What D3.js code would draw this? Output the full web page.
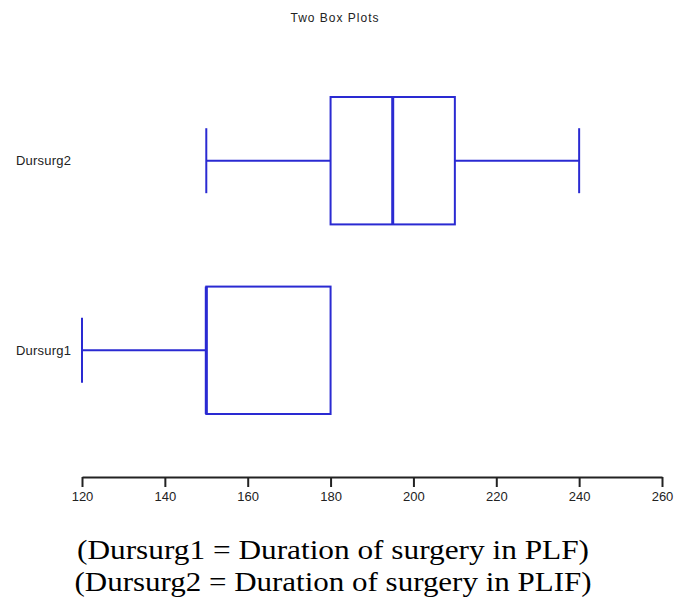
<!DOCTYPE html>
<html><head><meta charset="utf-8">
<script src="https://cdn.jsdelivr.net/npm/d3@7"></script>
<style>body{margin:0;background:#fff}svg{display:block}</style>
</head><body>
<script>
const categories = ["Dursurg1", "Dursurg2"];
const mins    = [120, 150];
const q1s     = [150, 180];
const medians = [150, 195];
const q3s     = [180, 210];
const maxs    = [180, 240];
const tickValues = [120, 140, 160, 180, 200, 220, 240, 260];
const title = "Two Box Plots";
const captions = ["(Dursurg1 = Duration of surgery in PLF)", "(Dursurg2 = Duration of surgery in PLIF)"];

const W = 688, H = 597;
const svg = d3.select("body").append("svg").attr("width", W).attr("height", H);
const x = d3.scaleLinear().domain([120, 260]).range([82, 662]);
const y = d3.scaleBand().domain(["Dursurg2", "Dursurg1"]).range([97, 414]).paddingInner(0.328).paddingOuter(0);
const col = "#2a2ad2";

svg.append("text").attr("x", 335).attr("y", 22).attr("text-anchor", "middle")
  .style("font-family", "Arial, 'Liberation Sans', sans-serif").style("font-size", "12px").style("letter-spacing", "1px")
  .attr("fill", "#222").text(title);

const data = categories.map((c, i) => ({c, min: mins[i], q1: q1s[i], med: medians[i], q3: q3s[i], max: maxs[i]}));
const g = svg.append("g");
data.forEach(d => {
  const y0 = y(d.c), bh = y.bandwidth(), cy = y0 + bh / 2, capH = bh * 0.51;
  const gg = g.append("g").attr("stroke", col).attr("fill", "none");
  if (d.min < d.q1) {
    gg.append("line").attr("x1", x(d.min)).attr("x2", x(d.q1)).attr("y1", cy).attr("y2", cy).attr("stroke-width", 2);
    gg.append("line").attr("x1", x(d.min)).attr("x2", x(d.min)).attr("y1", cy - capH / 2).attr("y2", cy + capH / 2).attr("stroke-width", 2);
  }
  if (d.max > d.q3) {
    gg.append("line").attr("x1", x(d.q3)).attr("x2", x(d.max)).attr("y1", cy).attr("y2", cy).attr("stroke-width", 2);
    gg.append("line").attr("x1", x(d.max)).attr("x2", x(d.max)).attr("y1", cy - capH / 2).attr("y2", cy + capH / 2).attr("stroke-width", 2);
  }
  gg.append("rect").attr("x", x(d.q1)).attr("y", y0).attr("width", x(d.q3) - x(d.q1)).attr("height", bh).attr("stroke-width", 2);
  gg.append("line").attr("x1", x(d.med)).attr("x2", x(d.med)).attr("y1", y0).attr("y2", y0 + bh).attr("stroke-width", 3);
  svg.append("text").attr("x", 16).attr("y", cy).attr("dy", "0.35em")
    .style("font-family", "Arial, 'Liberation Sans', sans-serif").style("font-size", "13px").style("letter-spacing", "0.2px")
    .attr("fill", "#222").text(d.c);
});

const ax = svg.append("g").attr("transform", "translate(0,477)")
  .call(d3.axisBottom(x).tickValues(tickValues).tickSize(10).tickSizeOuter(0).tickFormat(d3.format("d")));
ax.select(".domain").attr("stroke", "#222").attr("stroke-width", 2);
ax.selectAll(".tick line").attr("stroke", "#222").attr("stroke-width", 2);
ax.selectAll(".tick text").attr("y", 15).attr("fill", "#222")
  .style("font-family", "Arial, 'Liberation Sans', sans-serif").style("font-size", "13px");

const capLens = [512, 517];
captions.forEach((t, i) => {
  svg.append("text").attr("x", 333).attr("y", 559 + i * 32).attr("text-anchor", "middle")
    .attr("textLength", capLens[i]).attr("lengthAdjust", "spacingAndGlyphs")
    .style("font-family", "'Liberation Serif', 'Times New Roman', serif").style("font-size", "27px")
    .attr("fill", "#000").text(t);
});
</script>
</body></html>
